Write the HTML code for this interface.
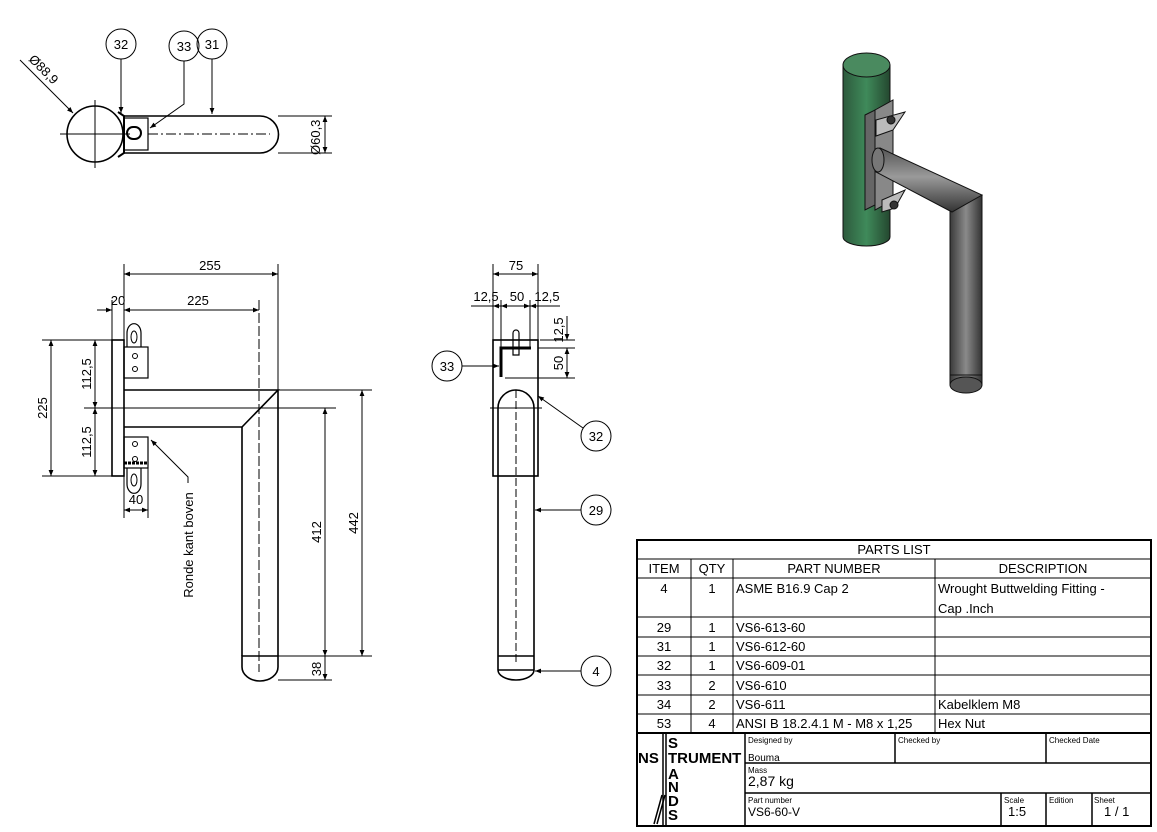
<!DOCTYPE html>
<html><head><meta charset="utf-8"><style>
html,body{margin:0;padding:0;background:#fff;width:1157px;height:832px;overflow:hidden}
svg{display:block}
text{font-family:"Liberation Sans",sans-serif;}
</style></head><body>
<svg width="1157" height="832" viewBox="0 0 1157 832" xmlns="http://www.w3.org/2000/svg">
<defs>
<marker id="a" viewBox="0 0 10 10" refX="10" refY="5" markerWidth="8" markerHeight="6" orient="auto-start-reverse"><path d="M0,1L10,5L0,9z" fill="#000"/></marker>
<linearGradient id="g" x1="0" x2="1"><stop offset="0" stop-color="#2d5a3d"/><stop offset="0.5" stop-color="#3f8a5a"/><stop offset="1" stop-color="#24472f"/></linearGradient>
<linearGradient id="t" x1="0" x2="1"><stop offset="0" stop-color="#3a3a3a"/><stop offset="0.5" stop-color="#8a8a8a"/><stop offset="1" stop-color="#333"/></linearGradient>
<linearGradient id="t2" x1="0" y1="0" x2="0" y2="1"><stop offset="0" stop-color="#555"/><stop offset="0.45" stop-color="#9a9a9a"/><stop offset="1" stop-color="#333"/></linearGradient>
</defs>
<g fill="none" stroke="#000" stroke-width="1">
<!-- TOP VIEW -->
<circle cx="95" cy="134" r="28" stroke-width="1.6"/>
<line x1="60" y1="134" x2="130" y2="134"/><line x1="95" y1="100" x2="95" y2="168"/>
<path d="M124,116 H260 A18.5,18.5 0 0 1 260,153 H124 Z" stroke-width="1.6"/>
<rect x="124" y="118" width="24" height="32" stroke-width="1.2"/>
<path d="M118,112 L124,116 V153 L118,157" stroke-width="2"/>
<rect x="127" y="127" width="14" height="12" rx="6" stroke-width="2"/>
<line x1="148" y1="134" x2="270" y2="134" stroke-dasharray="10,3,2,3"/>
<line x1="20" y1="60" x2="73" y2="113" marker-end="url(#a)"/>
<circle cx="121" cy="44" r="15"/><line x1="121" y1="59" x2="121" y2="113" marker-end="url(#a)"/>
<circle cx="184" cy="46" r="15"/><polyline points="184,61 184,104 150,128" marker-end="url(#a)"/>
<circle cx="212" cy="44" r="15"/><line x1="212" y1="59" x2="212" y2="114" marker-end="url(#a)"/>
<line x1="278" y1="116" x2="332" y2="116"/><line x1="278" y1="153" x2="332" y2="153"/>
<line x1="325" y1="116" x2="325" y2="153" marker-start="url(#a)" marker-end="url(#a)"/>

<!-- FRONT VIEW -->
<rect x="112" y="340" width="12" height="136" stroke-width="1.6"/>
<rect x="124" y="347" width="24" height="31" stroke-width="1.2"/>
<rect x="124" y="437" width="24" height="31" stroke-width="1.2"/>
<path d="M127,347 V333 A6,8 0 0 1 141,333 V347" stroke-width="1.2"/><ellipse cx="134" cy="337" rx="3" ry="6"/>
<path d="M127,468 V484 A6,8 0 0 0 141,484 V468" stroke-width="1.2"/><ellipse cx="134" cy="480" rx="3" ry="6"/>
<line x1="124" y1="463" x2="148" y2="463" stroke-width="3" stroke-dasharray="3,1"/>
<circle cx="135" cy="356" r="2.5"/><circle cx="135" cy="369" r="2.5"/><circle cx="135" cy="444" r="2.5"/><circle cx="135" cy="459" r="2.5"/>
<path d="M124,390 H278 L242,427 H124" stroke-width="1.6"/>
<path d="M278,390 V656 M242,427 V656" stroke-width="1.6"/>
<path d="M242,656 H278 V667 A18,14 0 0 1 242,667 Z" stroke-width="1.6"/>
<line x1="84" y1="408" x2="336" y2="408"/>
<line x1="259" y1="300" x2="259" y2="672" stroke-dasharray="10,3"/>
<line x1="124" y1="264" x2="124" y2="340"/><line x1="278" y1="264" x2="278" y2="390"/>
<line x1="124" y1="274" x2="278" y2="274" marker-start="url(#a)" marker-end="url(#a)"/>
<line x1="112" y1="300" x2="112" y2="340"/>
<line x1="97" y1="310" x2="112" y2="310" marker-end="url(#a)"/>
<line x1="124" y1="310" x2="259" y2="310" marker-start="url(#a)" marker-end="url(#a)"/>
<line x1="42" y1="340" x2="112" y2="340"/><line x1="42" y1="476" x2="112" y2="476"/>
<line x1="51" y1="340" x2="51" y2="476" marker-start="url(#a)" marker-end="url(#a)"/>
<line x1="95" y1="340" x2="95" y2="408" marker-start="url(#a)" marker-end="url(#a)"/>
<line x1="95" y1="408" x2="95" y2="476" marker-start="url(#a)" marker-end="url(#a)"/>
<line x1="124" y1="476" x2="124" y2="518"/><line x1="148" y1="468" x2="148" y2="518"/>
<line x1="124" y1="510" x2="148" y2="510" marker-start="url(#a)" marker-end="url(#a)"/>
<line x1="278" y1="390" x2="372" y2="390"/><line x1="278" y1="656" x2="372" y2="656"/><line x1="278" y1="680" x2="332" y2="680"/>
<line x1="325" y1="408" x2="325" y2="656" marker-start="url(#a)" marker-end="url(#a)"/>
<line x1="362" y1="390" x2="362" y2="656" marker-start="url(#a)" marker-end="url(#a)"/>
<line x1="325" y1="656" x2="325" y2="680" marker-end="url(#a)"/>
<polyline points="188,483 188,477 151,440" marker-end="url(#a)"/>

<!-- SIDE VIEW -->
<rect x="493" y="340" width="45" height="136" stroke-width="1.6"/>
<path d="M498,476 V408 A18,18 0 0 1 534,408 V476" stroke-width="1.6"/>
<path d="M498,476 V656 H534 V476 M498,656 V670 A18,10 0 0 0 534,670 V656" stroke-width="1.6"/>
<line x1="498" y1="670" x2="534" y2="670" stroke-width="1.6"/>
<line x1="516" y1="390" x2="516" y2="665" stroke-dasharray="8,3"/>
<line x1="490" y1="408" x2="542" y2="408"/>
<path d="M501,377 V348 H531" stroke-width="3"/>
<line x1="505" y1="378" x2="538" y2="378"/>
<path d="M513,348 V333 A3,3 0 0 1 519,333 V355 H513 Z" stroke-width="1.2"/>
<line x1="493" y1="264" x2="493" y2="340"/><line x1="538" y1="264" x2="538" y2="340"/>
<line x1="493" y1="274" x2="538" y2="274" marker-start="url(#a)" marker-end="url(#a)"/>
<line x1="501" y1="300" x2="501" y2="348"/><line x1="530" y1="300" x2="530" y2="348"/>
<line x1="471" y1="306" x2="493" y2="306"/>
<line x1="493" y1="306" x2="501" y2="306" marker-start="url(#a)"/>
<line x1="501" y1="306" x2="530" y2="306" marker-start="url(#a)" marker-end="url(#a)"/>
<line x1="530" y1="306" x2="560" y2="306" marker-start="url(#a)"/>
<line x1="540" y1="340" x2="575" y2="340"/><line x1="538" y1="348" x2="575" y2="348"/><line x1="538" y1="378" x2="575" y2="378"/>
<line x1="567" y1="316" x2="567" y2="340" marker-end="url(#a)"/>
<line x1="567" y1="348" x2="567" y2="378" marker-start="url(#a)" marker-end="url(#a)"/>
<circle cx="447" cy="366" r="15"/><line x1="462" y1="366" x2="499" y2="366" marker-end="url(#a)"/>
<circle cx="596" cy="436" r="15"/><line x1="583" y1="428" x2="538" y2="396" marker-end="url(#a)"/>
<circle cx="596" cy="510" r="15"/><line x1="581" y1="510" x2="535" y2="510" marker-end="url(#a)"/>
<circle cx="596" cy="671" r="15"/><line x1="581" y1="671" x2="535" y2="671" marker-end="url(#a)"/>
</g>
<g font-size="13" fill="#000">
<text x="121" y="49" text-anchor="middle">32</text>
<text x="184" y="51" text-anchor="middle">33</text>
<text x="212" y="49" text-anchor="middle">31</text>
<text transform="translate(28,60) rotate(45)" font-size="13">Ø88,9</text>
<text transform="translate(320,155) rotate(-90)">Ø60,3</text>
<text x="210" y="270" text-anchor="middle">255</text>
<text x="198" y="305" text-anchor="middle">225</text>
<text x="118" y="305" text-anchor="middle">20</text>
<text transform="translate(47,408) rotate(-90)" text-anchor="middle">225</text>
<text transform="translate(91,374) rotate(-90)" text-anchor="middle">112,5</text>
<text transform="translate(91,442) rotate(-90)" text-anchor="middle">112,5</text>
<text x="136" y="504" text-anchor="middle">40</text>
<text transform="translate(321,532) rotate(-90)" text-anchor="middle">412</text>
<text transform="translate(358,523) rotate(-90)" text-anchor="middle">442</text>
<text transform="translate(321,669) rotate(-90)" text-anchor="middle">38</text>
<text transform="translate(193,545) rotate(-90)" text-anchor="middle">Ronde kant boven</text>
<text x="516" y="270" text-anchor="middle">75</text>
<text x="486" y="301" text-anchor="middle">12,5</text>
<text x="517" y="301" text-anchor="middle">50</text>
<text x="547" y="301" text-anchor="middle">12,5</text>
<text transform="translate(563,330) rotate(-90)" text-anchor="middle">12,5</text>
<text transform="translate(563,363) rotate(-90)" text-anchor="middle">50</text>
<text x="447" y="371" text-anchor="middle">33</text>
<text x="596" y="441" text-anchor="middle">32</text>
<text x="596" y="515" text-anchor="middle">29</text>
<text x="596" y="676" text-anchor="middle">4</text>
</g>

<!-- 3D -->
<g stroke="#111" stroke-width="1">
<path d="M843,65 V237 A23.5,9 0 0 0 890,237 V65 Z" fill="url(#g)"/>
<ellipse cx="866.5" cy="65" rx="23.5" ry="12" fill="#4a8a5f"/>
<path d="M865,115 L875,110 V205 L865,210 Z" fill="#666"/>
<path d="M875,110 L893,100 V200 L875,210 Z" fill="#888"/>
<path d="M876,120 L905,112 L893,130 L876,136 Z" fill="#bbb"/>
<path d="M882,200 L905,190 L895,208 L882,212 Z" fill="#bbb"/>
<circle cx="891" cy="120" r="4" fill="#333"/><circle cx="894" cy="205" r="4" fill="#333"/>
<path d="M950,205 L982,195 V385 H950 Z" fill="url(#t)"/>
<ellipse cx="966" cy="385" rx="16" ry="8" fill="#555"/>
<line x1="950" y1="375" x2="982" y2="375"/>
<path d="M880,148 L982,195 L952,212 L876,172 Z" fill="url(#t2)"/>
<ellipse cx="878" cy="160" rx="6" ry="12" fill="#777"/>
</g>

<!-- PARTS LIST -->
<g fill="none" stroke="#000">
<rect x="637" y="540" width="514" height="286" stroke-width="2"/>
<g stroke-width="1">
<line x1="637" y1="559" x2="1151" y2="559"/><line x1="637" y1="578" x2="1151" y2="578"/>
<line x1="637" y1="617" x2="1151" y2="617"/><line x1="637" y1="637" x2="1151" y2="637"/>
<line x1="637" y1="656" x2="1151" y2="656"/><line x1="637" y1="675" x2="1151" y2="675"/>
<line x1="637" y1="695" x2="1151" y2="695"/><line x1="637" y1="714" x2="1151" y2="714"/>
<line x1="691" y1="559" x2="691" y2="733"/><line x1="733" y1="559" x2="733" y2="733"/><line x1="935" y1="559" x2="935" y2="733"/>
</g>
<line x1="637" y1="733" x2="1151" y2="733" stroke-width="2"/>
<g stroke-width="1.5">
<line x1="745" y1="733" x2="745" y2="826"/>
<line x1="745" y1="763" x2="1151" y2="763"/><line x1="745" y1="793" x2="1151" y2="793"/>
<line x1="895" y1="733" x2="895" y2="763"/><line x1="1046" y1="733" x2="1046" y2="763"/>
<line x1="1001" y1="793" x2="1001" y2="826"/><line x1="1046" y1="793" x2="1046" y2="826"/><line x1="1092" y1="793" x2="1092" y2="826"/>
<line x1="663" y1="733" x2="663" y2="826"/><line x1="666" y1="733" x2="666" y2="826"/>
<line x1="654" y1="824" x2="662" y2="795"/><line x1="657" y1="824" x2="665" y2="795"/>
</g>
</g>
<g font-size="13" fill="#000">
<text x="894" y="554" text-anchor="middle">PARTS LIST</text>
<text x="664" y="573" text-anchor="middle">ITEM</text><text x="712" y="573" text-anchor="middle">QTY</text>
<text x="834" y="573" text-anchor="middle">PART NUMBER</text><text x="1043" y="573" text-anchor="middle">DESCRIPTION</text>
<g text-anchor="middle">
<text x="664" y="593">4</text><text x="664" y="632">29</text><text x="664" y="651">31</text><text x="664" y="670">32</text><text x="664" y="690">33</text><text x="664" y="709">34</text><text x="664" y="728">53</text>
<text x="712" y="593">1</text><text x="712" y="632">1</text><text x="712" y="651">1</text><text x="712" y="670">1</text><text x="712" y="690">2</text><text x="712" y="709">2</text><text x="712" y="728">4</text>
</g>
<text x="736" y="593">ASME B16.9 Cap 2</text><text x="736" y="632">VS6-613-60</text><text x="736" y="651">VS6-612-60</text>
<text x="736" y="670">VS6-609-01</text><text x="736" y="690">VS6-610</text><text x="736" y="709">VS6-611</text>
<text x="736" y="728">ANSI B 18.2.4.1 M - M8 x 1,25</text>
<text x="938" y="593">Wrought Buttwelding Fitting -</text><text x="938" y="613">Cap .Inch</text>
<text x="938" y="709">Kabelklem M8</text><text x="938" y="728">Hex Nut</text>
<g font-size="8"><text x="748" y="743">Designed by</text><text x="898" y="743">Checked by</text><text x="1049" y="743">Checked Date</text>
<text x="748" y="773">Mass</text><text x="748" y="803">Part number</text><text x="1004" y="803">Scale</text><text x="1049" y="803">Edition</text><text x="1094" y="803">Sheet</text></g>
<text x="748" y="761" font-size="10">Bouma</text>
<text x="748" y="786" font-size="14">2,87 kg</text>
<text x="748" y="816" font-size="12">VS6-60-V</text>
<text x="1008" y="816" font-size="13">1:5</text>
<text x="1104" y="816" font-size="13">1 / 1</text>
<g font-weight="bold" font-size="15">
<text x="638" y="763">NS</text><text x="668" y="763">TRUMENT</text>
<text x="668" y="748">S</text><text x="668" y="779">A</text><text x="668" y="792">N</text><text x="668" y="806">D</text><text x="668" y="820">S</text>
</g>
</g>
</svg>
</body></html>
